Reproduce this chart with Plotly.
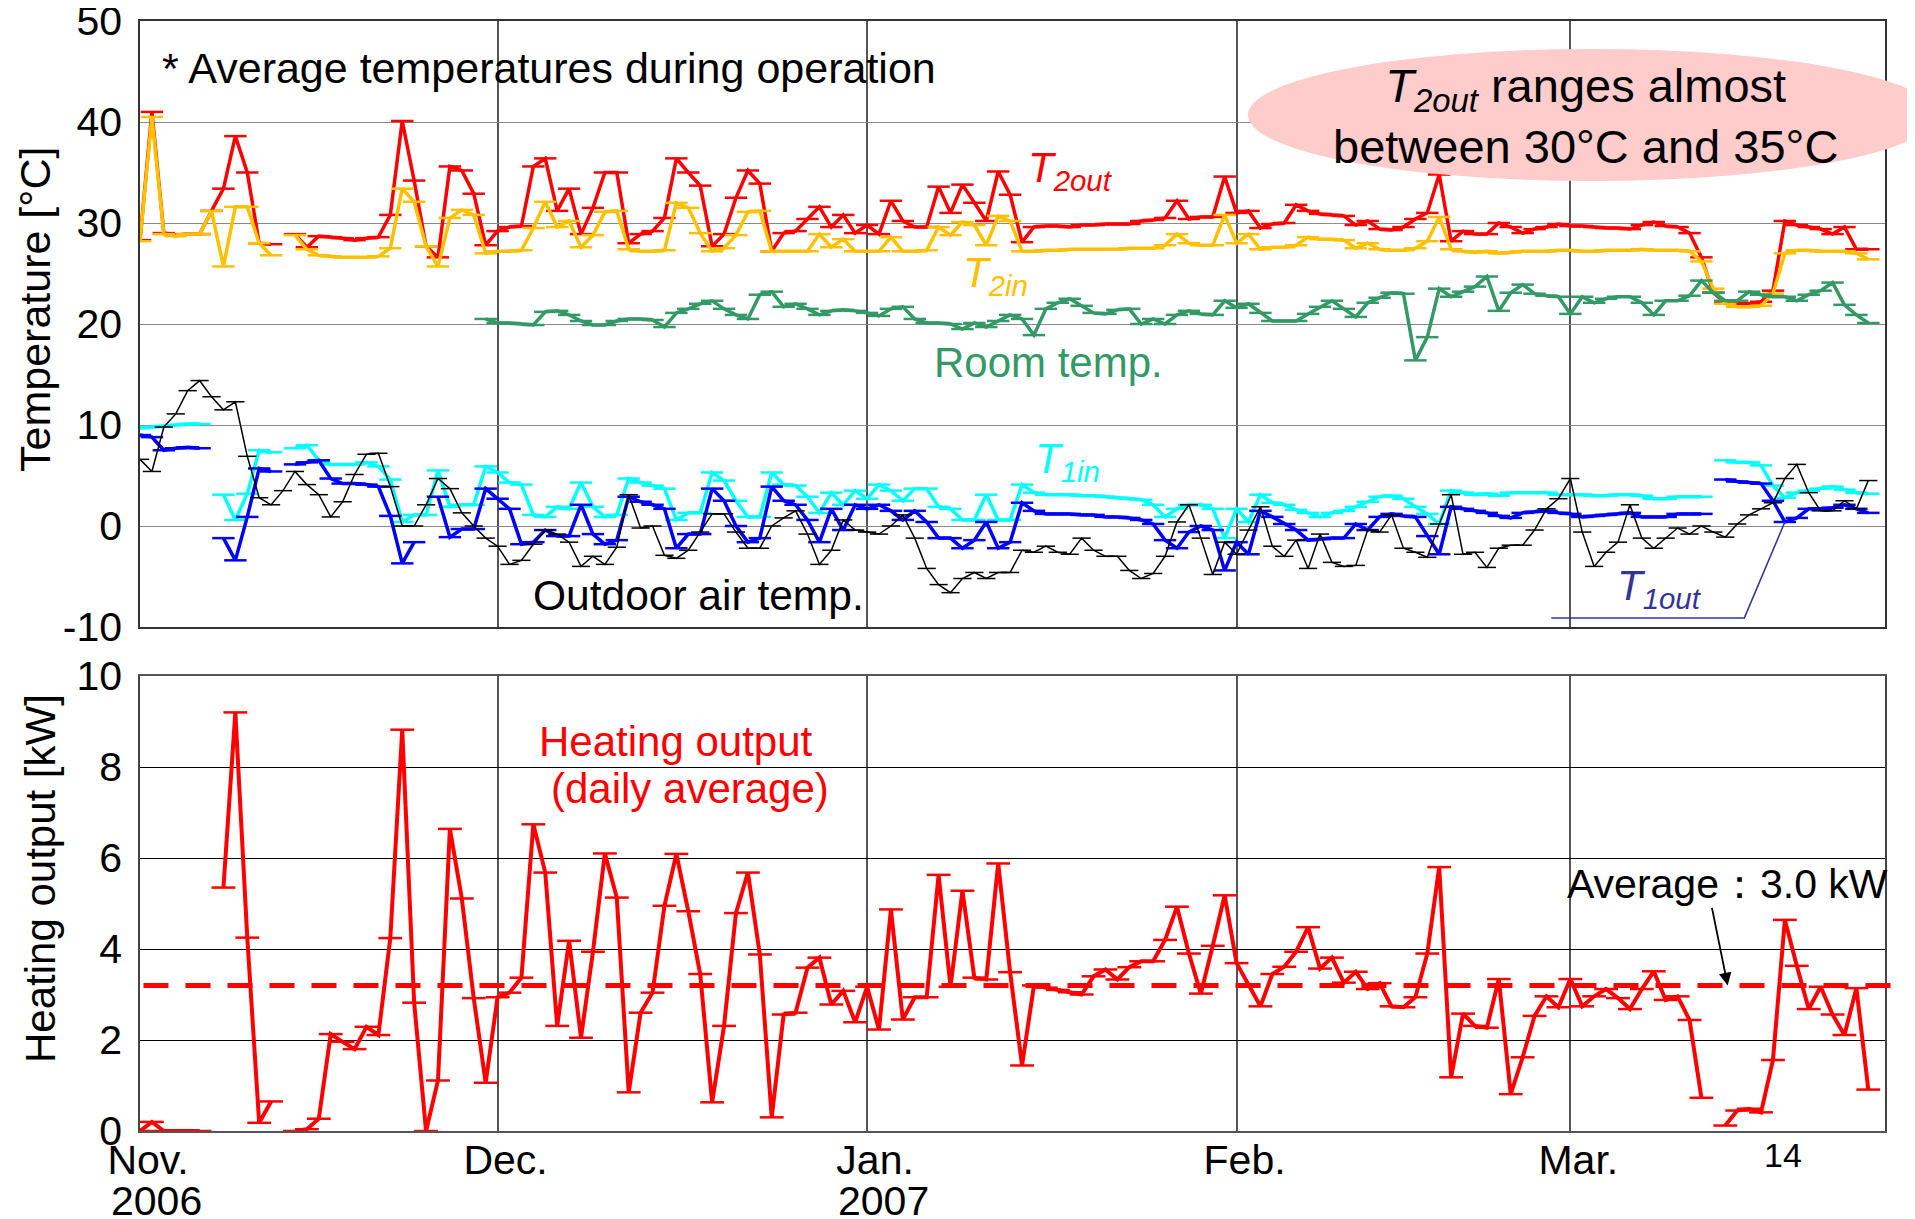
import plotly.graph_objects as go

# ---------------- data (day index 0 = 1 Nov 2006) ----------------
DAYS = list(range(146))
MONTH_TICKS = [0, 30, 61, 92, 120]
MONTH_LABELS = ["Nov.", "Dec.", "Jan.", "Feb.", "Mar."]
YEAR_LABELS = ["2006", "2007"]
YEAR_TICKS = [0, 61]
TEMP_TICKS = [-10, 0, 10, 20, 30, 40, 50]
TEMP_LABELS = ["-10", "0", "10", "20", "30", "40", "50"]
HEAT_TICKS = [0, 2, 4, 6, 8, 10]

T2OUT = [28.3, 41.0, 29.0, 28.8, 28.9, 28.9, 31.2, 33.4, 38.6, 35.0,
         28.0, 27.9, None, 28.9, 27.6, 28.7, 28.6, 28.5, 28.3, 28.5,
         28.6, 30.8, 40.1, 34.2, 27.7, 26.6, 35.6, 35.2, 32.9, 27.8,
         29.2, 29.6, 29.7, 35.6, 36.4, 31.2, 33.4, 28.9, 31.5, 35.0,
         35.0, 28.0, 28.9, 29.2, 30.5, 36.4, 35.0, 33.7, 27.7, 28.9,
         32.5, 35.2, 33.9, 27.2, 29.0, 29.2, 30.4, 31.6, 29.6, 30.8,
         29.0, 29.8, 28.9, 32.2, 30.2, 29.6, 29.6, 33.6, 31.0, 33.8,
         32.0, 30.2, 35.1, 32.8, 28.1, 29.6, 29.7, 29.7, 29.6, 29.8,
         29.8, 29.9, 29.9, 29.9, 30.2, 30.3, 30.5, 32.2, 30.4, 30.6,
         30.6, 34.6, 31.0, 31.2, 29.5, 29.9, 30.0, 31.8, 31.2, 30.9,
         30.8, 30.7, 29.8, 30.2, 29.4, 29.3, 29.6, 30.4, 31.0, 34.8,
         28.2, 29.2, 28.9, 28.9, 30.0, 29.6, 29.0, 29.4, 29.6, 29.9,
         29.7, 29.7, 29.6, 29.5, 29.5, 29.4, 29.8, 30.1, 29.7, 29.6,
         29.0, 26.6, 23.1, 22.1, 22.0, 22.0, 22.2, 23.3, 30.2, 29.8,
         29.6, 29.4, 28.9, 29.6, 27.4, 27.4]

T2IN = [28.2, 40.5, 28.9, 28.7, 28.9, 28.9, 31.2, 25.7, 31.6, 31.6,
        28.0, 26.8, None, 28.8, 27.4, 26.8, 26.7, 26.6, 26.6, 26.6,
        26.7, 27.5, 33.4, 32.1, 27.7, 25.7, 30.5, 31.3, 30.8, 27.0,
        27.2, 27.2, 27.3, 29.5, 32.1, 29.6, 30.2, 27.6, 28.8, 31.1,
        31.2, 27.4, 27.2, 27.2, 27.3, 32.0, 31.5, 29.0, 27.2, 27.5,
        28.8, 31.1, 31.2, 27.2, 27.2, 27.2, 27.2, 28.9, 27.6, 28.4,
        27.2, 27.2, 27.2, 28.6, 27.2, 27.2, 27.3, 29.6, 28.8, 30.1,
        29.8, 27.8, 30.7, 30.2, 27.2, 27.2, 27.3, 27.3, 27.4, 27.4,
        27.4, 27.4, 27.4, 27.5, 27.5, 27.5, 27.8, 28.9, 28.0, 27.8,
        27.8, 30.8, 28.0, 28.9, 27.4, 27.6, 27.6, 27.8, 28.6, 28.4,
        28.4, 28.3, 27.5, 28.0, 27.4, 27.3, 27.3, 27.5, 28.2, 30.6,
        27.4, 27.2, 27.1, 27.2, 27.0, 27.1, 27.2, 27.2, 27.2, 27.3,
        27.3, 27.2, 27.2, 27.3, 27.3, 27.3, 27.4, 27.3, 27.3, 27.3,
        27.2, 26.2, 23.5, 22.0, 21.7, 21.7, 21.8, 23.0, 27.0, 27.3,
        27.3, 27.2, 27.2, 27.2, 27.0, 26.4]

ROOM = [None] * 29 + [
        20.5,
        20.1, 20.1, 20.0, 19.9, 21.2, 21.3, 20.9, 20.3, 19.9, 19.9,
        20.3, 20.5, 20.5, 20.4, 19.7, 21.1, 21.5, 22.0, 22.3, 21.5,
        20.9, 20.5, 22.9, 23.2, 21.7, 22.0, 21.5, 20.9, 21.3, 21.4,
        21.3, 21.1, 20.8, 21.5, 21.7, 20.5, 20.1, 20.1, 20.0, 19.5,
        20.1, 19.7, 20.3, 20.9, 20.5, 18.9, 21.5, 22.1, 22.5, 21.8,
        21.1, 21.0, 21.4, 21.5, 20.0, 20.5, 20.0, 20.9, 21.3, 21.0,
        20.9, 22.3, 21.6, 22.0, 21.1, 20.3, 20.3, 20.3, 21.0, 21.7,
        22.3, 21.5, 20.7, 22.1, 22.6, 23.1, 23.0, 16.4, 18.7, 23.5,
        22.7, 23.2, 23.7, 24.7, 21.3, 23.1, 23.9, 23.0, 22.8, 22.7,
        21.0, 22.7, 22.1, 22.5, 22.7, 22.7, 22.1, 20.9, 22.3, 22.3,
        22.8, 24.3, 23.1, 22.3, 22.3, 23.2, 22.9, 22.7, 22.7, 22.3,
        22.9, 23.3, 24.1, 21.9, 20.9, 20.1]

T1IN = [9.7, 9.8, 9.9, 10.0, 10.1, 10.1, None, 3.1, 0.6, 3.2,
        7.5, 7.3, None, 7.7, 8.0, 6.5, 6.1, 6.1, 6.1, 6.3,
        5.9, 4.6, 0.4, 1.1, 1.1, 5.5, 1.9, 2.1, 2.1, 5.9,
        5.3, 4.3, 4.1, 1.1, 0.9, 1.9, 1.7, 4.3, 1.9, 0.9,
        1.1, 4.7, 4.3, 4.0, 3.7, 0.6, 1.3, 1.3, 5.3, 4.5,
        2.5, 0.9, 0.9, 5.3, 4.1, 4.0, 2.9, 1.3, 3.3, 2.1,
        3.5, 2.7, 4.1, 3.5, 2.5, 3.7, 3.7, 1.9, 1.7, 0.6,
        0.6, 3.1, 0.6, 0.6, 4.1, 3.3, 3.1, 3.1, 3.1, 3.0,
        3.0, 2.9, 2.8, 2.7, 2.6, 2.1, 0.9, 1.7, 2.1, 2.1,
        1.7, -1.2, 1.7, 0.4, 3.1, 2.3, 2.1, 1.6, 1.3, 0.9,
        1.3, 1.5, 1.9, 2.4, 2.9, 3.0, 2.7, 1.9, 1.2, 0.2,
        3.5, 3.3, 3.1, 3.2, 3.0, 3.3, 3.3, 3.3, 3.3, 3.1,
        3.1, 3.1, 3.0, 3.0, 3.1, 3.1, 3.0, 2.7, 2.7, 2.9,
        2.9, 2.9, None, 6.5, 6.3, 6.3, 6.0, 4.0, 2.8, 3.3,
        3.5, 3.7, 3.9, 3.6, 3.3, 3.2]

T1OUT = [9.0, 8.8, 7.5, 7.7, 7.8, 7.7, None, -1.2, -3.4, 0.9,
         5.7, 5.4, None, 6.1, 6.3, 6.5, 4.7, 4.2, 4.2, 4.1,
         3.9, 1.0, -3.7, -1.6, None, 2.9, -1.1, -0.3, -0.3, 3.7,
         2.7, 1.7, -1.8, -1.6, -0.4, -1.0, -1.0, 2.1, -0.8, -1.8,
         -1.4, 2.9, 2.4, 2.1, 1.7, -2.2, -0.8, -0.8, 3.7, 2.5,
         0.0, -1.6, -1.2, 3.9, 2.5, 2.1, 0.6, -1.6, 1.7, -0.4,
         2.1, 1.7, 2.1, 1.5, 0.6, 1.5, 0.4, -1.2, -1.2, -2.2,
         -1.4, 0.4, -2.2, -1.6, 2.3, 1.5, 1.2, 1.2, 1.2, 1.1,
         1.1, 0.9, 0.9, 0.8, 0.6, 0.2, -1.4, -2.2, -0.6, 0.0,
         -0.4, -4.4, -1.6, -2.8, 1.5, 0.9, 0.2, -0.4, -1.4, -1.3,
         -1.2, -1.2, 0.2, -0.4, 0.9, 1.2, 1.0, 0.9, -1.0, -2.8,
         1.9, 1.7, 1.5, 1.3, 1.0, 0.8, 1.3, 1.4, 1.5, 1.3,
         1.2, 0.9, 1.0, 1.1, 1.2, 1.3, 0.9, 0.9, 0.9, 1.2,
         1.2, 1.2, None, 4.6, 4.4, 4.3, 4.2, 2.5, 0.4, 0.8,
         1.7, 1.7, 1.8, 2.1, 1.7, 1.3]

OUTDOOR = [6.6, 5.4, 9.8, 11.1, 13.4, 14.4, 12.8, 11.5, 12.3, 6.9,
           2.8, 2.1, 3.5, 5.4, 4.1, 3.1, 0.9, 2.4, 5.1, 7.1,
           7.2, 3.9, 0.0, 0.0, 2.1, 4.7, 3.7, 1.3, 0.0, -1.2,
           -2.0, -3.8, -3.4, -1.8, -0.4, -0.8, -1.6, -4.0, -3.0, -3.8,
           -2.1, 3.1, -0.2, 0.0, -2.9, -3.2, -2.4, -0.6, 1.2, 1.2,
           -0.6, -2.2, -2.2, 0.0, 0.8, 1.5, -0.8, -3.8, -2.4, 0.6,
           -0.4, -0.6, -0.8, 0.0, 1.1, -1.2, -4.2, -5.8, -6.6, -5.2,
           -4.6, -5.2, -4.6, -4.6, -2.4, -2.6, -2.0, -2.6, -2.8, -1.2,
           -2.4, -3.0, -3.0, -4.4, -5.2, -4.7, -3.0, 0.4, 2.1, -1.2,
           -4.8, -1.6, -2.8, -0.4, 1.9, -2.0, -3.0, -1.4, -4.2, -0.8,
           -3.6, -4.0, -3.9, -0.4, -0.6, 1.1, -2.2, -2.6, -3.1, 0.2,
           3.1, -2.8, -2.6, -4.1, -2.2, -1.9, -1.9, -0.4, 1.7, 2.7,
           4.7, -0.6, -4.0, -2.6, -1.6, 2.1, -1.2, -2.2, -1.2, -0.2,
           -0.8, 0.0, -0.6, -1.1, 0.2, 1.1, 1.7, 2.3, 4.7, 6.1,
           3.3, 1.5, 1.5, 2.5, 1.7, 4.5]

HEAT = [0.0, 0.2, 0.0, 0.0, 0.0, 0.0, None, 5.35, 9.2, 4.25,
        0.18, 0.65, None, 0.0, 0.04, 0.27, 2.13, 1.96, 1.8, 2.29,
        2.11, 4.24, 8.82, 2.82, 0.0, 1.11, 6.64, 5.11, 2.92, 1.06,
        2.94, 3.04, 3.37, 6.74, 5.68, 2.31, 4.18, 2.05, 3.94, 6.10,
        5.13, 0.85, 2.6, 3.04, 4.95, 6.09, 4.83, 3.45, 0.63, 2.31,
        4.79, 5.68, 3.88, 0.3, 2.56, 2.6, 3.59, 3.81, 2.78, 3.08,
        2.39, 3.17, 2.23, 4.87, 2.45, 2.94, 2.94, 5.63, 3.17, 5.28,
        3.37, 3.33, 5.88, 3.49, 1.44, 3.2, 3.15, 3.1, 3.05, 3.0,
        3.4, 3.55, 3.33, 3.6, 3.73, 3.73, 4.2, 4.93, 3.9, 3.02,
        4.07, 5.18, 3.69, 3.2, 2.74, 3.45, 3.61, 3.94, 4.48, 3.57,
        3.81, 3.26, 3.5, 3.12, 3.25, 2.74, 2.72, 2.94, 3.9, 5.8,
        1.18, 2.58, 2.31, 2.27, 3.34, 0.81, 1.62, 2.53, 2.96, 2.72,
        3.34, 2.74, 2.96, 3.12, 2.92, 2.68, 3.12, 3.51, 2.88, 2.96,
        2.44, 0.73, None, 0.12, 0.45, 0.49, 0.41, 1.56, 4.64, 3.63,
        2.68, 3.17, 2.56, 2.11, 3.14, 0.91]

AVG_LINE = 3.2          # dashed average line as drawn
T1OUT_LABEL_DAY = 138   # point the T1out leader line points at

# ---------------- layout helpers ----------------
# the page body has an 8px margin, so the figure is drawn 8px in from the corner
OFF = 8
W, H = 1915 - OFF, 1219 - OFF
FONT = "Liberation Sans, Arial, Helvetica, sans-serif"


def px(x):
    return (x - OFF) / W


def py(y):
    return 1 - (y - OFF) / H


RED = "#FF0000"
GOLD = "#FFC000"
GREEN = "#339966"
CYAN = "#00FFFF"
BLUE = "#0000FF"
NAVY = "#333399"

fig = go.Figure()


def add_series(y, color, width, msize, mwidth, xa="x", ya="y"):
    fig.add_trace(go.Scatter(
        x=DAYS, y=y, mode="lines+markers", xaxis=xa, yaxis=ya,
        line=dict(color=color, width=width),
        marker=dict(symbol="line-ew", size=msize, color=color,
                    line=dict(color=color, width=mwidth)),
        connectgaps=False, showlegend=False, hoverinfo="skip"))


add_series(T2OUT, RED, 3.5, 16, 2.5)
add_series(T2IN, GOLD, 3.5, 16, 2.5)
add_series(ROOM, GREEN, 3.5, 16, 2.5)
add_series(T1IN, CYAN, 3.5, 16, 2.5)
add_series(T1OUT, BLUE, 3.5, 16, 2.5)
add_series(OUTDOOR, "#000000", 1.5, 13, 1.5)
add_series(HEAT, RED, 4, 17, 2.5, "x2", "y2")

TICKFONT = dict(family=FONT, size=41, color="black")
X_DOMAIN = [px(140), px(1885)]
X_RANGE = [0, 146.4]

fig.update_layout(
    width=W, height=H, template="none",
    paper_bgcolor="white", plot_bgcolor="white",
    margin=dict(l=0, r=0, t=0, b=0),
    font=dict(family=FONT, color="black"),
    xaxis=dict(domain=X_DOMAIN, range=X_RANGE, anchor="y",
               tickvals=MONTH_TICKS, showticklabels=False, ticks="",
               showgrid=True, gridcolor="#555555", gridwidth=2,
               showline=True, mirror=True, zeroline=False,
               linecolor="#333333", linewidth=1.5, automargin=False),
    yaxis=dict(domain=[py(627), py(21)], range=[-10, 50], anchor="x",
               tickvals=TEMP_TICKS, ticktext=TEMP_LABELS, ticks="",
               tickfont=TICKFONT, ticklabeloverflow="allow",
               showgrid=True, gridcolor="#8a8a8a", gridwidth=1,
               showline=True, mirror=True, zeroline=False,
               linecolor="#333333", linewidth=1.5, automargin=False,
               ticklabelstandoff=8),
    xaxis2=dict(domain=X_DOMAIN, range=X_RANGE, anchor="y2",
                tickvals=MONTH_TICKS, ticktext=MONTH_LABELS, ticks="",
                tickfont=TICKFONT, ticklabeloverflow="allow",
                ticklabelshift=8, ticklabelstandoff=-8,
                showgrid=True, gridcolor="#555555", gridwidth=2,
                showline=True, mirror=True, zeroline=False,
                linecolor="#555555", linewidth=1.5, automargin=False),
    yaxis2=dict(domain=[py(1131), py(676)], range=[0, 10], anchor="x2",
                tickvals=HEAT_TICKS, ticks="", tickfont=TICKFONT,
                ticklabeloverflow="allow",
                showgrid=True, gridcolor="#000000", gridwidth=1,
                showline=True, mirror=True, zeroline=False,
                linecolor="#444444", linewidth=1.5, automargin=False,
                ticklabelstandoff=8),
)

# average line (dashed) across the heating panel
fig.add_shape(type="line", xref="x2 domain", yref="y2", x0=0.002, x1=1.004,
              y0=AVG_LINE, y1=AVG_LINE,
              line=dict(color=RED, width=5, dash="25px,17px"), layer="above")

# pink ellipse
fig.add_shape(type="circle", xref="paper", yref="paper",
              x0=px(1248), x1=px(1936), y0=py(181), y1=py(49),
              fillcolor="#FFCCCC", line=dict(width=0), layer="above")

# T1out leader line
fig.add_shape(type="path", xref="x", yref="y",
              path=f"M 118.4,-9.1 L 134.6,-9.1 L {T1OUT_LABEL_DAY},{T1OUT[T1OUT_LABEL_DAY]}",
              line=dict(color=NAVY, width=1.5), layer="above")


def note(text, x, y, size=41, color="black", xanchor="left", yanchor="middle",
         angle=0):
    fig.add_annotation(text=text, x=px(x), y=py(y), xref="paper", yref="paper",
                       showarrow=False, xanchor=xanchor, yanchor=yanchor,
                       textangle=angle,
                       font=dict(family=FONT, size=size, color=color))


note("* Average temperatures during operation", 160, 68, size=43)
note("<i>T</i><sub><i>2out</i></sub> ranges almost<br>between 30°C and 35°C",
     1585, 116, size=47, xanchor="center")
note("<i>T</i><sub><i>2out</i></sub>", 1026, 170, size=42, color=RED)
note("<i>T</i><sub><i>2in</i></sub>", 961, 275, size=42, color=GOLD)
note("Room temp.", 932, 362, size=42, color=GREEN)
note("<i>T</i><sub><i>1in</i></sub>", 1033, 462, size=42, color=CYAN)
note("Outdoor air temp.", 531, 595, size=42.5)
note("<i>T</i><sub><i>1out</i></sub>", 1615, 589, size=42, color=NAVY)
note("Heating output", 676, 742, size=42, color=RED, xanchor="center")
note("(daily average)", 690, 788, size=42, color=RED, xanchor="center")
note("Average：3.0 kW", 1727, 884, size=41, xanchor="center")
note("14", 1783, 1155, size=34, xanchor="center")
note("Temperature [°C]", 35, 310, size=43, xanchor="center", angle=-90)
note("Heating output [kW]", 40, 879, size=42, xanchor="center", angle=-90)

# year lines under the month labels
for day, year in zip(YEAR_TICKS, YEAR_LABELS):
    fig.add_annotation(text=year, x=day, xref="x2", y=py(1201), yref="paper",
                       showarrow=False, xanchor="center", yanchor="middle",
                       xshift=16, font=dict(family=FONT, size=41, color="black"))

# arrow to the average line
fig.add_annotation(x=133.2, y=AVG_LINE, xref="x2", yref="y2", text="",
                   showarrow=True, ax=-16, ay=-79, arrowhead=2,
                   arrowsize=1.4, arrowwidth=1.8, arrowcolor="black",
                   standoff=0)

fig.write_html("out.html")
